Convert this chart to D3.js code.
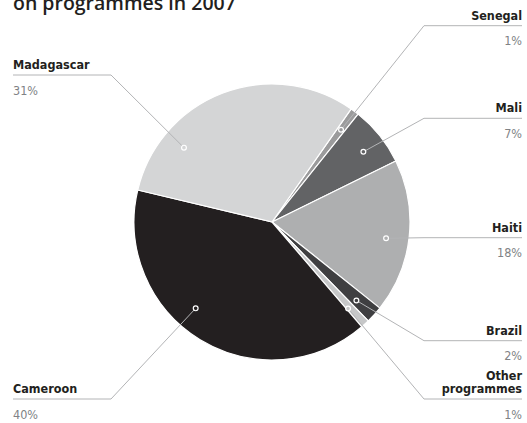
<!DOCTYPE html>
<html><head><meta charset="utf-8">
<script src="https://cdn.jsdelivr.net/npm/d3@7"></script>
<style>body{margin:0;background:#fff}svg{display:block}</style>
</head><body><svg id="c" width="527" height="423"></svg>
<script>
const categories = ["Senegal","Mali","Haiti","Brazil","Other programmes","Cameroon","Madagascar"];
const shares = [1,7,18,2,1,40,31];
const shareLabels = ["1%","7%","18%","2%","1%","40%","31%"];
const colors = ["#9b9b9c","#626365","#aeafb0","#3f3f41","#c6c7c8","#231f20","#d4d5d6"];
const titleText = "on programmes in 2007";

// layout (not data)
const nameLines = [["Senegal"],["Mali"],["Haiti"],["Brazil"],["Other","programmes"],["Cameroon"],["Madagascar"]];
const side = ["r","r","r","r","r","l","l"];
const leaderY = [25.7,118.3,237.7,340.7,399,399,75];
const anchorFrac = [0.5,0.55,0.53,0.6,0.8,0.57,0.24];

const W = 527, H = 423;
const cx = 272, cy = 222, R = 138;
const deg = Math.PI/180;
const start = 35*deg;

const svg = d3.select("#c");

svg.append("text").attr("x",13).attr("y",10)
  .attr("font-family","'Open Sans', sans-serif").attr("font-weight",600)
  .attr("font-size",19.5).attr("fill","#231f20").text(titleText);

const pie = d3.pie().sort(null).value(d=>d).startAngle(start).endAngle(start+2*Math.PI);
const arcs = pie(shares);
const arc = d3.arc().innerRadius(0).outerRadius(R);

const g = svg.append("g").attr("transform",`translate(${cx},${cy})`);
g.selectAll("path").data(arcs).join("path")
  .attr("d",arc).attr("fill",(d,i)=>colors[i])
  .attr("stroke","#fff").attr("stroke-width",1.2).attr("stroke-linejoin","round");

const rr = R*0.835;
const lineColor = "#b3b4b6";
const fontFam = "'DejaVu Sans', sans-serif";

arcs.forEach((d,i)=>{
  const a = d.startAngle + anchorFrac[i]*(d.endAngle-d.startAngle);
  const px = cx + rr*Math.sin(a), py = cy - rr*Math.cos(a);
  const right = side[i]==="r";
  const ex = right ? 424 : 111;
  const endX = right ? 522 : 13;
  const L = leaderY[i];
  svg.append("polyline")
    .attr("points",`${px},${py} ${ex},${L} ${endX},${L}`)
    .attr("fill","none").attr("stroke",lineColor).attr("stroke-width",1);
  svg.append("circle").attr("cx",px).attr("cy",py).attr("r",2.4)
    .attr("fill",colors[i]).attr("stroke","#fff").attr("stroke-width",1.2);
  const anchor = right ? "end" : "start";
  const lines = nameLines[i];
  lines.forEach((t,j)=>{
    svg.append("text").attr("x",endX).attr("y",L-6-(lines.length-1-j)*13.5)
      .attr("text-anchor",anchor).attr("font-family",fontFam)
      .attr("font-stretch","condensed").attr("font-weight","bold")
      .attr("font-size",12.5).attr("fill","#231f20").text(t);
  });
  svg.append("text").attr("x",endX).attr("y",L+19.5)
    .attr("text-anchor",anchor).attr("font-family",fontFam)
    .attr("font-stretch","condensed")
    .attr("font-size",12.5).attr("fill","#808285").text(shareLabels[i]);
});
</script></body></html>
